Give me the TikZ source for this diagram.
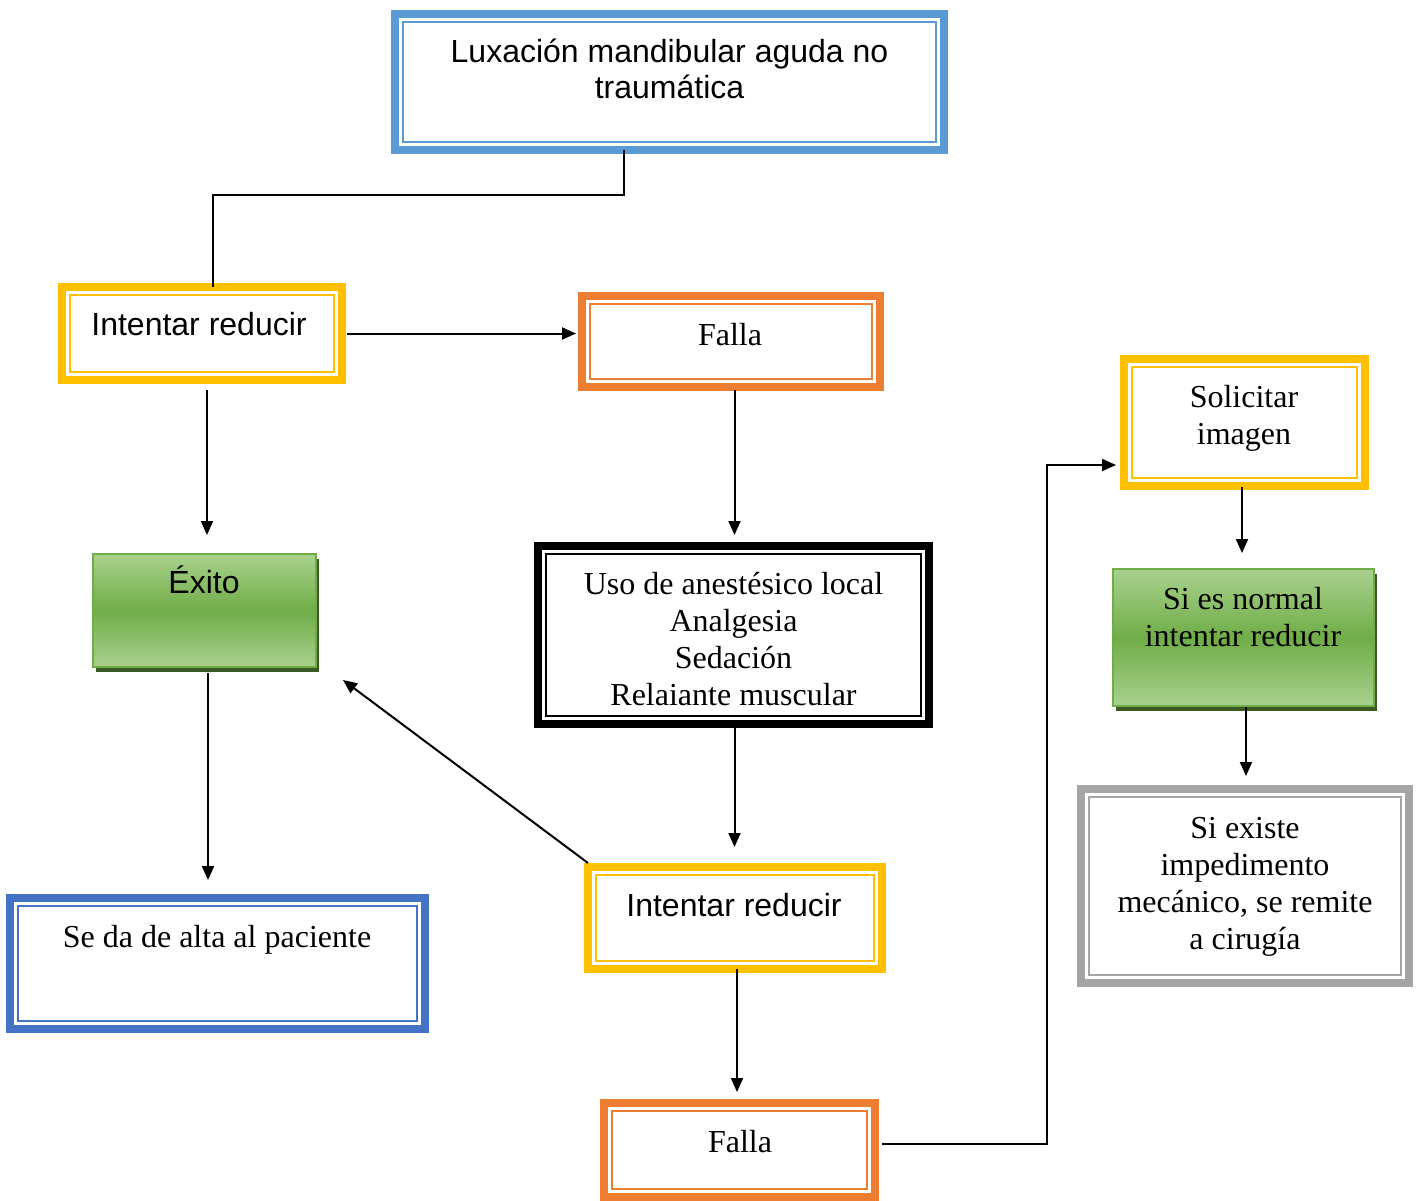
\documentclass[tikz,border=0pt]{standalone}
\usepackage{fontspec}
\setmainfont{Liberation Serif}
\newfontfamily\arialf{Liberation Sans}
\usetikzlibrary{arrows.meta,calc,shadows}
\definecolor{cTop}{HTML}{5B9BD5}
\definecolor{cYel}{HTML}{FFC000}
\definecolor{cOra}{HTML}{ED7D31}
\definecolor{cBlu}{HTML}{4472C4}
\definecolor{cGry}{HTML}{A5A5A5}
\definecolor{cGrnL}{HTML}{A9D18E}
\definecolor{cGrnM}{HTML}{70AD47}
\definecolor{cGrnD}{HTML}{3B5A26}
\newcommand\innerframe[3]{\draw[#2, line width=2.5pt] ([xshift=#3pt,yshift=-#3pt]#1.north west) rectangle ([xshift=-#3pt,yshift=#3pt]#1.south east);}
\begin{document}
\begin{tikzpicture}[x=1pt,y=-1pt,
  frame/.style={draw=#1, line width=8pt, fill=white, rectangle, inner sep=0pt, outer sep=0pt},
  greenbox/.style={draw=cGrnM, line width=2pt, rectangle, inner sep=0pt, outer sep=0pt,
     top color=cGrnL, bottom color=cGrnL, middle color=cGrnM,
     drop shadow={shadow xshift=3pt,shadow yshift=-5pt,fill=cGrnD,opacity=1}},
  sz/.style n args={2}{minimum width=#1pt, minimum height=#2pt},
  tsans/.style={anchor=base, inner sep=0pt, font=\arialf\fontsize{32}{37}\selectfont},
  tserif/.style={anchor=base, inner sep=0pt, font=\fontsize{32}{37}\selectfont},
  conn/.style={line width=2pt, draw=black},
  arr/.style={conn, -{Triangle[length=14pt,width=12pt]}}]
\useasboundingbox[fill=white] (0,0) rectangle (1421,1200);

% boxes
\node[frame=cTop, sz={549}{136}] (top) at (669.5,82) {};
\innerframe{top}{cTop}{8}
\node[frame=cYel, sz={280}{93}] (int1) at (202,333.5) {};
\innerframe{int1}{cYel}{8}
\node[frame=cOra, sz={298}{91}] (falla1) at (731,341.5) {};
\innerframe{falla1}{cOra}{8}
\node[greenbox, sz={223}{113}] (exito) at (204.5,610.5) {};
\node[frame=black, sz={391}{178}] (uso) at (733.5,635) {};
\innerframe{uso}{black}{8}
\node[frame=cYel, sz={241}{127}] (solic) at (1244.5,422.5) {};
\innerframe{solic}{cYel}{8}
\node[greenbox, sz={261}{137}] (normal) at (1243.5,637.5) {};
\node[frame=cGry, sz={328}{194}] (existe) at (1245,886) {};
\innerframe{existe}{cGry}{8}
\node[frame=cBlu, sz={415}{131}] (alta) at (217.5,963.5) {};
\innerframe{alta}{cBlu}{8}
\node[frame=cYel, sz={294}{102}] (int2) at (735,918) {};
\innerframe{int2}{cYel}{8}
\node[frame=cOra, sz={271}{94}] (falla2) at (739.5,1150) {};
\innerframe{falla2}{cOra}{8}

% texts
\node[tsans, font=\arialf\fontsize{32}{36}\selectfont] (ttop) at (669.5,62) {\begin{tabular}[t]{@{}c@{}}Luxación mandibular aguda no\\traumática\end{tabular}};
\node[tsans] (tint1) at (199,335) {Intentar reducir};
\node[tserif] (tfalla1) at (730,345) {Falla};
\node[tsans] (texito) at (204,593) {Éxito};
\node[tserif] (tuso) at (733.5,594) {\begin{tabular}[t]{@{}c@{}}Uso de anestésico local\\Analgesia\\Sedación\\Relaiante muscular\end{tabular}};
\node[tserif] (tsolic) at (1244,407) {\begin{tabular}[t]{@{}c@{}}Solicitar\\imagen\end{tabular}};
\node[tserif] (tnormal) at (1243,609) {\begin{tabular}[t]{@{}c@{}}Si es normal\\intentar reducir\end{tabular}};
\node[tserif] (texiste) at (1245,838) {\begin{tabular}[t]{@{}c@{}}Si existe\\impedimento\\mecánico, se remite\\a cirugía\end{tabular}};
\node[tserif] (talta) at (217,947) {Se da de alta al paciente};
\node[tsans] (tint2) at (734,916) {Intentar reducir};
\node[tserif] (tfalla2) at (740,1152) {Falla};

% connectors
\coordinate (j1) at (624,195);
\coordinate (j2) at (213,195);
\draw[conn] (top.south -| j1) -- (j1) -- (j2) -- (int1.north -| j2);
\draw[arr, shorten <=5pt, shorten >=6pt] (int1.east) -- (falla1.west |- int1.east);
\draw[arr, shorten <=10pt, shorten >=19pt] ([xshift=5pt]int1.south) -- ([xshift=2.5pt]exito.north);
\draw[arr, shorten <=3pt, shorten >=11pt] ([xshift=3.5pt]falla1.south) -- ([xshift=1pt]uso.north);
\draw[arr, shorten <=4pt, shorten >=20pt] ([xshift=1pt]uso.south) -- ([xshift=-0.5pt]int2.north);
\draw[arr] ([yshift=4pt]int2.north west) -- ([xshift=27pt,yshift=-13pt]exito.south east);
\draw[arr, shorten <=6pt, shorten >=18pt] ([xshift=3.5pt]exito.south) -- ([xshift=-9.5pt]alta.north);
\draw[arr, shorten <=0pt, shorten >=11pt] ([xshift=2pt]int2.south) -- ([xshift=-2.5pt]falla2.north);
\coordinate (k1) at (1047,1144);
\coordinate (k2) at (1047,465);
\draw[arr, shorten <=7pt, shorten >=8pt] (falla2.east |- k1) -- (k1) -- (k2) -- (solic.west |- k2);
\draw[arr, shorten <=1pt, shorten >=16pt] ([xshift=-2.5pt]solic.south) -- ([xshift=-1.5pt]normal.north);
\draw[arr, shorten <=1pt, shorten >=13pt] ([xshift=2.5pt]normal.south) -- ([xshift=1pt]existe.north);
\end{tikzpicture}
\end{document}
